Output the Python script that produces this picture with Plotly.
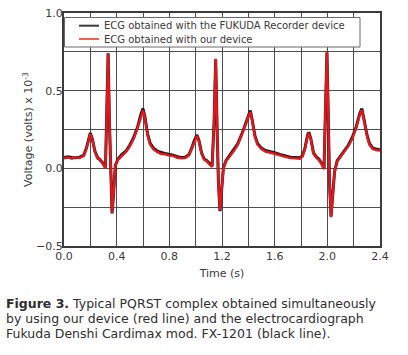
import plotly.graph_objects as go

# Time base (s)
time_s = [
    0.00, 0.03, 0.06, 0.09, 0.12, 0.15, 0.17, 0.19, 0.20, 0.215, 0.235, 0.255, 0.275, 0.295,
    0.315, 0.325, 0.335, 0.345, 0.355, 0.365, 0.375, 0.39, 0.41, 0.44, 0.47, 0.50, 0.53,
    0.56, 0.585, 0.60, 0.615, 0.635, 0.655, 0.68, 0.71, 0.74, 0.77, 0.80,
    0.83, 0.86, 0.89, 0.92, 0.95, 0.97, 0.99, 1.01, 1.025, 1.045, 1.065, 1.085, 1.105,
    1.125, 1.14, 1.152, 1.163, 1.173, 1.185, 1.195, 1.21, 1.23, 1.26, 1.29, 1.32, 1.35,
    1.38, 1.40, 1.415, 1.43, 1.45, 1.47, 1.50, 1.53, 1.56, 1.60,
    1.64, 1.68, 1.72, 1.76, 1.79, 1.81, 1.83, 1.85, 1.86, 1.875, 1.895, 1.915, 1.935,
    1.955, 1.975, 1.985, 1.997, 2.008, 2.017, 2.028, 2.04, 2.055, 2.075, 2.10, 2.13,
    2.16, 2.19, 2.22, 2.245, 2.262, 2.28, 2.30, 2.32, 2.345, 2.37, 2.40,
]

# FUKUDA recorder (black line), volts x 1e-3
fukuda_mv = [
    0.070, 0.075, 0.070, 0.068, 0.072, 0.085, 0.130, 0.205, 0.228, 0.190, 0.110, 0.070, 0.055, 0.035,
    0.005, 0.350, 0.740, 0.300, -0.100, -0.290, -0.180, 0.020, 0.060, 0.090, 0.110, 0.150, 0.200,
    0.270, 0.350, 0.385, 0.330, 0.220, 0.160, 0.130, 0.110, 0.100, 0.095, 0.090,
    0.085, 0.075, 0.070, 0.072, 0.090, 0.130, 0.180, 0.215, 0.180, 0.100, 0.060, 0.050, 0.030,
    0.015, 0.300, 0.700, 0.250, -0.100, -0.275, -0.170, 0.000, 0.050, 0.085, 0.120, 0.160, 0.220,
    0.290, 0.340, 0.372, 0.310, 0.210, 0.160, 0.130, 0.115, 0.110, 0.100,
    0.090, 0.080, 0.072, 0.070, 0.068, 0.080, 0.130, 0.215, 0.232, 0.190, 0.100, 0.075, 0.060,
    0.035, 0.000, 0.350, 0.745, 0.300, -0.100, -0.310, -0.180, -0.020, 0.050, 0.080, 0.110,
    0.150, 0.200, 0.270, 0.350, 0.385, 0.310, 0.220, 0.160, 0.130, 0.125, 0.120,
]

# Our device (red line), volts x 1e-3
device_mv = [
    0.065, 0.070, 0.062, 0.072, 0.066, 0.080, 0.125, 0.198, 0.222, 0.185, 0.105, 0.062, 0.060, 0.028,
    0.000, 0.360, 0.735, 0.310, -0.095, -0.285, -0.175, 0.015, 0.055, 0.082, 0.105, 0.142, 0.192,
    0.262, 0.340, 0.372, 0.322, 0.212, 0.152, 0.122, 0.104, 0.092, 0.090, 0.082,
    0.080, 0.068, 0.064, 0.066, 0.084, 0.124, 0.172, 0.208, 0.172, 0.094, 0.055, 0.044, 0.025,
    0.010, 0.310, 0.705, 0.260, -0.095, -0.270, -0.165, -0.005, 0.045, 0.078, 0.112, 0.152, 0.212,
    0.282, 0.332, 0.362, 0.302, 0.204, 0.152, 0.124, 0.108, 0.104, 0.094,
    0.084, 0.074, 0.066, 0.064, 0.062, 0.075, 0.124, 0.208, 0.226, 0.184, 0.094, 0.070, 0.054,
    0.030, -0.005, 0.360, 0.750, 0.310, -0.095, -0.315, -0.175, -0.025, 0.044, 0.074, 0.104,
    0.144, 0.192, 0.262, 0.340, 0.375, 0.302, 0.212, 0.152, 0.124, 0.118, 0.114,
]

series_names = ["ECG obtained with the FUKUDA Recorder device", "ECG obtained with our device"]
series_colors = ["#1e1e1e", "#e3161c"]
legend_colors = ["#3a3a3a", "#f2605a"]
x_ticks = [0.0, 0.4, 0.8, 1.2, 1.6, 2.0, 2.4]
y_ticks = [-0.5, 0.0, 0.5, 1.0]

caption_lines = [
    "<b>Figure 3.</b> Typical PQRST complex obtained simultaneously",
    "by using our device (red line) and the electrocardiograph",
    "Fukuda Denshi Cardimax mod. FX-1201 (black line).",
]

FONT = "DejaVu Sans"
GRID = "#4d4d4d"
TXT = "#3a3a3a"

# plot-area geometry in pixels (for placing decorations in paper coords)
PL, PR, PT, PB = 64, 380, 13, 246
PW, PH = PR - PL, PB - PT


def px(xp):
    return (xp - PL) / PW


def py(yp):
    return (PB - yp) / PH


fig = go.Figure()
fig.add_trace(go.Scatter(x=time_s, y=fukuda_mv, mode="lines", name=series_names[0],
                         line=dict(color=series_colors[0], width=3)))
fig.add_trace(go.Scatter(x=time_s, y=device_mv, mode="lines", name=series_names[1],
                         line=dict(color=series_colors[1], width=2.4)))

fig.update_layout(
    width=408, height=355,
    margin=dict(l=PL, r=408 - PR, t=PT, b=355 - PB),
    paper_bgcolor="white", plot_bgcolor="white",
    font=dict(family=FONT, size=11, color=TXT),
    showlegend=False,
)

fig.update_xaxes(
    range=[0, 2.4], tickvals=x_ticks, tickformat=".1f", automargin=False,
    showgrid=True, gridcolor=GRID, gridwidth=1,
    ticks="inside", ticklen=4, tickcolor=GRID, ticklabelstandoff=-1,
    minor=dict(dtick=0.2, showgrid=True, gridcolor=GRID, gridwidth=1, ticks="inside", ticklen=4, tickcolor=GRID),
    showline=True, linecolor="#3c3c3c", linewidth=2, mirror="allticks",
    zeroline=False,
    title=dict(text="Time (s)", font=dict(family=FONT, size=11, color=TXT), standoff=7),
    tickfont=dict(family=FONT, size=11, color=TXT),
)
fig.update_yaxes(
    range=[-0.5, 1.0], tickvals=y_ticks, tickformat=".1f", automargin=False,
    showgrid=True, gridcolor=GRID, gridwidth=1,
    ticks="inside", ticklen=4, tickcolor=GRID, ticklabelstandoff=-3,
    minor=dict(dtick=0.25, showgrid=True, gridcolor=GRID, gridwidth=1, ticks="inside", ticklen=4, tickcolor=GRID),
    showline=True, linecolor="#3c3c3c", linewidth=2, mirror="allticks",
    zeroline=False,
    title=dict(text="Voltage (volts) x 10<sup>-3</sup>", font=dict(family=FONT, size=11, color=TXT), standoff=1),
    tickfont=dict(family=FONT, size=11, color=TXT),
)

# legend box (drawn inside the plot, top-left, like the original)
fig.add_shape(type="rect", xref="paper", yref="paper",
              x0=px(64.5), x1=px(360), y0=py(47), y1=py(17.5),
              fillcolor="white", line=dict(color="#6a6a6a", width=1), layer="above")
for i, (name, col) in enumerate(zip(series_names, legend_colors)):
    yl = py(25.7 + 13.3 * i)
    fig.add_shape(type="line", xref="paper", yref="paper",
                  x0=px(79), x1=px(99), y0=yl, y1=yl,
                  line=dict(color=col, width=2), layer="above")
    fig.add_annotation(text=name, xref="paper", yref="paper", x=px(102), y=yl,
                       xanchor="left", yanchor="middle", showarrow=False,
                       font=dict(family=FONT, size=10, color=TXT))

for i, line in enumerate(caption_lines):
    fig.add_annotation(text=line, xref="paper", yref="paper",
                       x=px(4), y=py(303 + 15 * i),
                       xanchor="left", yanchor="middle", showarrow=False,
                       font=dict(family=FONT, size=12.5, color="#2e2e2e"), align="left")

fig.write_html("out.html", config={"displayModeBar": False},
               post_script="document.body.style.margin='0';")
